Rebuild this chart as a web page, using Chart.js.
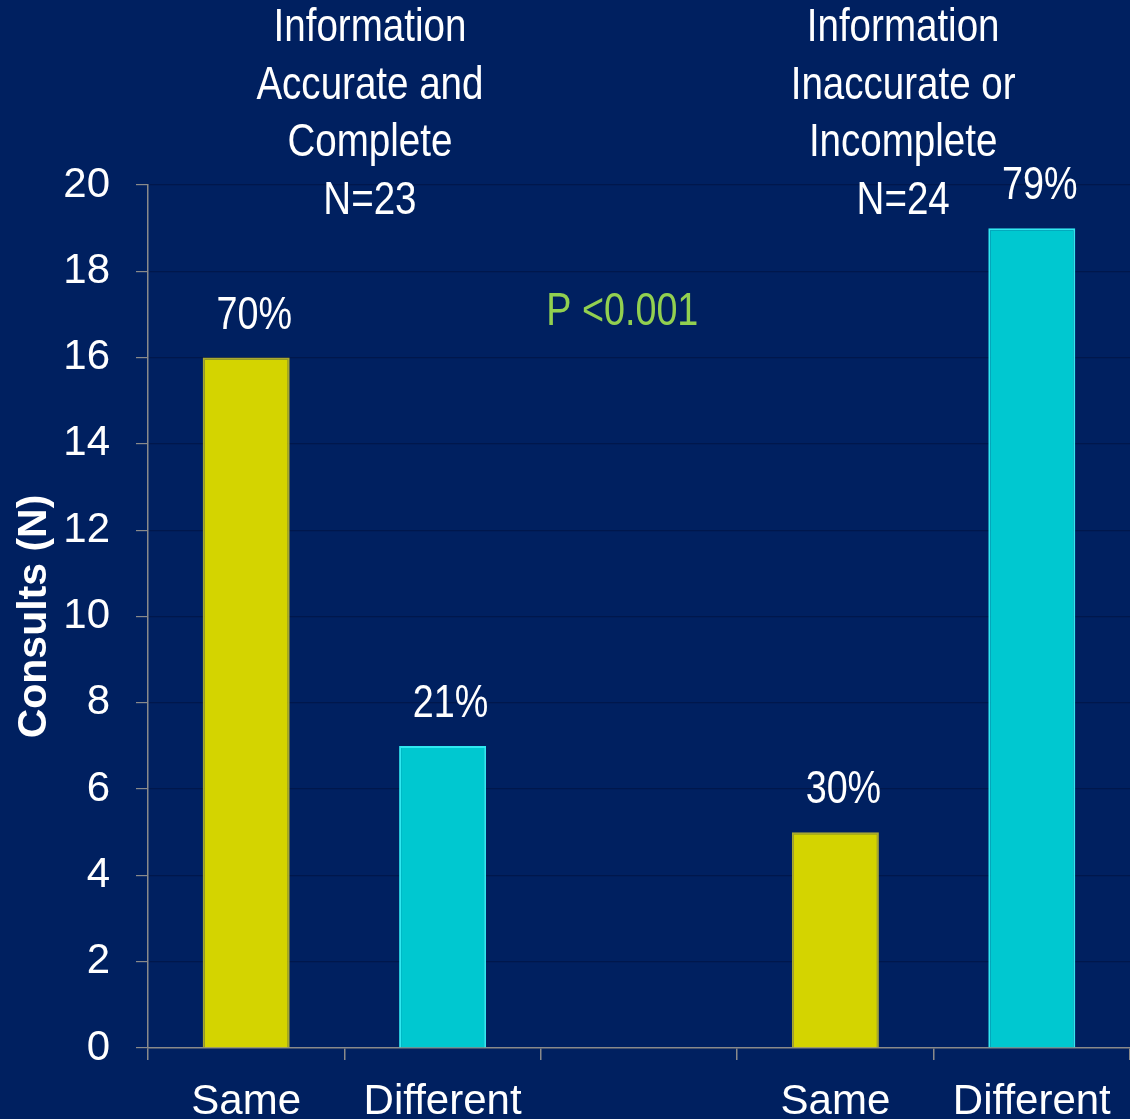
<!DOCTYPE html>
<html>
<head>
<meta charset="utf-8">
<script src="https://cdn.jsdelivr.net/npm/chart.js@4/dist/chart.umd.min.js"></script>
<style>
  html, body { margin: 0; padding: 0; background: #002060; }
  #wrap { width: 1130px; height: 1119px; position: relative; }
</style>
</head>
<body>
<div id="wrap"><canvas id="consultChart"></canvas></div>
<script>
// consults per group, the blank slot keeps the two groups apart
const categories = ['Same', 'Different', '', 'Same', 'Different'];
const consults = [16, 7, null, 5, 19];
const pctLabels = ['70%', '21%', '', '30%', '79%'];
const yTicks = [0, 2, 4, 6, 8, 10, 12, 14, 16, 18, 20];
const groupHeaders = [
  ['Information', 'Accurate and', 'Complete', 'N=23'],
  ['Information', 'Inaccurate or', 'Incomplete', 'N=24']
];
const pValueText = 'P <0.001';

const YELLOW = '#d4d400';
const CYAN = '#00c8d0';
const SANS = '"Liberation Sans", Arial, sans-serif';

const fills = [YELLOW, CYAN, YELLOW, YELLOW, CYAN];
const edges = ['#a8a830', '#30e8f0', '#a8a830', '#a8a830', '#30e8f0'];

// condensed text: squeeze the regular face horizontally
function narrowText(ctx, text, x, y, size) {
  ctx.save();
  ctx.font = size + 'px ' + SANS;
  ctx.translate(x, y);
  ctx.scale(0.82, 1);
  ctx.fillText(text, 0, 0);
  ctx.restore();
}

// percentages over bars, group headers and p value
const textPlugin = {
  id: 'textPlugin',
  afterDraw(chart) {
    const ctx = chart.ctx;
    const area = chart.chartArea;
    const y = chart.scales.y;
    const meta = chart.getDatasetMeta(0);
    ctx.save();
    ctx.fillStyle = '#ffffff';
    ctx.textAlign = 'center';
    ctx.textBaseline = 'alphabetic';
    meta.data.forEach((bar, i) => {
      if (consults[i] == null) return;
      narrowText(ctx, pctLabels[i], bar.x + 8, bar.y - 29, 46);
    });

    ctx.textBaseline = 'middle';
    const headerX = [0.226, 0.769];
    const lastLineY = y.getPixelForValue(20) + 16;
    groupHeaders.forEach((lines, g) => {
      const cx = area.left + headerX[g] * (area.right - area.left);
      lines.forEach((line, k) => {
        narrowText(ctx, line, cx, lastLineY - (lines.length - 1 - k) * 57.5, 47);
      });
    });

    ctx.fillStyle = '#92d050';
    narrowText(ctx, pValueText, area.left + 0.483 * (area.right - area.left), y.getPixelForValue(17.05), 46);
    ctx.restore();
  }
};

new Chart(document.getElementById('consultChart'), {
  type: 'bar',
  data: {
    labels: categories,
    datasets: [{
      data: consults,
      backgroundColor: fills,
      borderColor: edges,
      borderWidth: 2,
      borderSkipped: 'bottom',
      categoryPercentage: 1,
      barPercentage: 0.443
    }]
  },
  options: {
    responsive: true,
    maintainAspectRatio: false,
    animation: false,
    layout: { padding: { top: 185, right: 0, left: 0, bottom: 0 } },
    plugins: { legend: { display: false }, tooltip: { enabled: false } },
    scales: {
      x: {
        offset: true,
        afterFit(scale) { scale.height = 71; },
        grid: { drawOnChartArea: false, tickColor: '#8a8a8a', tickLength: 12, lineWidth: 1.5 },
        border: { color: '#8a8a8a', width: 1.5 },
        ticks: {
          color: '#ffffff',
          font: { family: SANS, size: 42 },
          padding: 17,
          maxRotation: 0,
          autoSkip: false
        }
      },
      y: {
        min: 0,
        max: 20,
        afterFit(scale) { scale.width = 148; },
        afterBuildTicks(scale) { scale.ticks = yTicks.map(v => ({ value: v })); },
        grid: { color: 'rgba(0, 10, 40, 0.35)', tickColor: '#8a8a8a', tickLength: 12, lineWidth: 1.2 },
        border: { color: '#8a8a8a', width: 1.5 },
        ticks: {
          color: '#ffffff',
          font: { family: SANS, size: 42 },
          padding: 26
        },
        title: {
          display: true,
          text: 'Consults (N)',
          color: '#ffffff',
          font: { family: SANS, size: 41, weight: 'bold' },
          padding: { top: 10, bottom: 0 }
        }
      }
    }
  },
  plugins: [textPlugin]
});
</script>
</body>
</html>
